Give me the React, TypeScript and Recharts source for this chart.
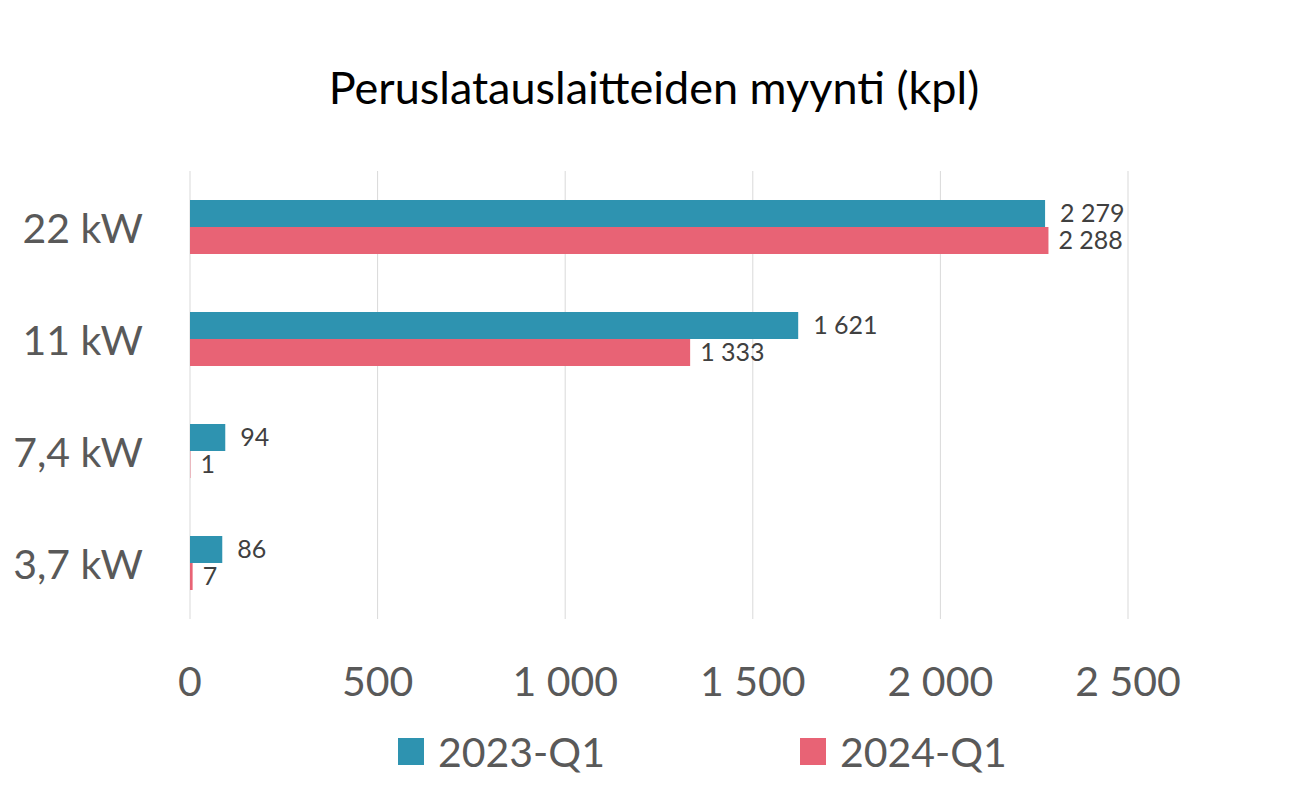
import { BarChart, Bar, XAxis, YAxis, CartesianGrid, Legend, LabelList } from 'recharts';

const categories = ['22 kW', '11 kW', '7,4 kW', '3,7 kW'];
const q2023 = [2279, 1621, 94, 86];
const q2024 = [2288, 1333, 1, 7];
const xTicks = [0, 500, 1000, 1500, 2000, 2500];

const BLUE = '#2e93b0';
const PINK = '#e86375';
const FONT = 'Lato, "Open Sans", sans-serif';

const fmt = (v: any) => String(v).replace(/\B(?=(\d{3})+(?!\d))/g, ' ');

const data = categories.map((name, i) => ({ name, q2023: q2023[i], q2024: q2024[i] }));

const YTick = (props: any) => {
  const { y, payload } = props;
  return (
    <text x={143} y={y} textAnchor="end" dominantBaseline="central" fill="#595959" fontSize={41} fontFamily={FONT}>
      {payload.value}
    </text>
  );
};

const XTick = (props: any) => {
  const { x, y, payload } = props;
  return (
    <text x={x} y={y + 59} textAnchor="middle" dominantBaseline="central" fill="#595959" fontSize={41} fontFamily={FONT}>
      {fmt(payload.value)}
    </text>
  );
};

const LegendContent = (props: any) => {
  const items = props.payload || [];
  return (
    <div style={{ display: 'flex', paddingLeft: 398, fontFamily: FONT, fontSize: 41, color: '#595959' }}>
      {items.map((it: any, i: number) => (
        <div key={i} style={{ display: 'flex', alignItems: 'center', marginRight: 195 }}>
          <div style={{ width: 26, height: 27, background: it.color, marginRight: 14 }} />
          <span>{it.value}</span>
        </div>
      ))}
    </div>
  );
};

const App = () => {
  return (
    <div style={{ position: 'absolute', left: 0, top: 0, width: 1308, height: 788, background: '#fff' }}>
      <div style={{ position: 'absolute', left: 0, top: 60, width: 1308, textAlign: 'center', fontFamily: FONT, fontSize: 45, color: '#000' }}>
        Peruslatauslaitteiden myynti (kpl)
      </div>
      <BarChart
        width={1308}
        height={788}
        data={data}
        layout="vertical"
        barGap={0}
        margin={{ top: 171, right: 180, bottom: 109, left: 0 }}
      >
        <CartesianGrid horizontal={false} stroke="#d9d9d9" />
        <XAxis
          type="number"
          domain={[0, 2500]}
          ticks={xTicks}
          axisLine={false}
          tickLine={false}
          tickSize={0}
          height={60}
          tick={<XTick />}
        />
        <YAxis type="category" dataKey="name" width={190} axisLine={false} tickLine={false} tick={<YTick />} />
        <Legend
          verticalAlign="middle"
          align="center"
          layout="horizontal"
          wrapperStyle={{ top: 727, left: 0, width: 1308 }}
          content={<LegendContent />}
        />
        <Bar dataKey="q2023" name="2023-Q1" fill={BLUE} barSize={27} isAnimationActive={false}>
          <LabelList dataKey="q2023" position="right" offset={15} formatter={fmt} fill="#404040" fontSize={25} fontFamily={FONT} />
        </Bar>
        <Bar dataKey="q2024" name="2024-Q1" fill={PINK} barSize={27} isAnimationActive={false}>
          <LabelList dataKey="q2024" position="right" offset={10} formatter={fmt} fill="#404040" fontSize={25} fontFamily={FONT} />
        </Bar>
      </BarChart>
    </div>
  );
};

export default App;
